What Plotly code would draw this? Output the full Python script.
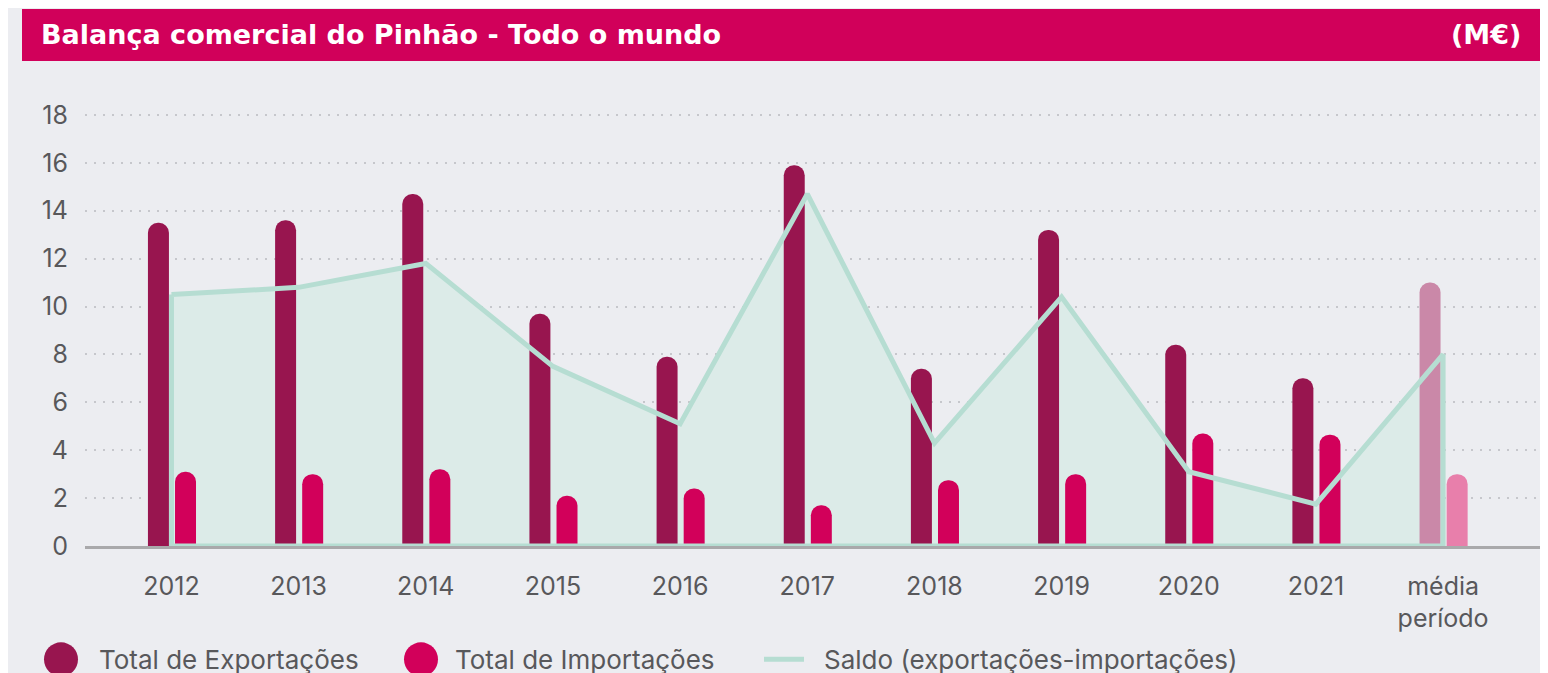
import plotly.graph_objects as go

# ---------------- data ----------------
categories = ["2012", "2013", "2014", "2015", "2016", "2017", "2018", "2019", "2020", "2021", "média<br>período"]
exportacoes = [13.5, 13.6, 14.7, 9.7, 7.9, 15.9, 7.4, 13.2, 8.4, 7.0, 11.0]
importacoes = [3.1, 3.0, 3.2, 2.1, 2.4, 1.7, 2.75, 3.0, 4.7, 4.65, 3.0]
saldo = [10.5, 10.8, 11.8, 7.5, 5.1, 14.7, 4.3, 10.4, 3.1, 1.75, 8.0]
y_ticks = [0, 2, 4, 6, 8, 10, 12, 14, 16, 18]

title_text = "Balança comercial do Pinhão - Todo o mundo"
unit_text = "(M€)"
legend_names = ["Total de Exportações", "Total de Importações", "Saldo (exportações-importações)"]

# ---------------- style ----------------
W, H = 1548, 673
OFF = 8  # page body offset of the figure in the screenshot
BG = "#ECEDF1"
C_EXP = "#98154F"
C_IMP = "#D2005A"
C_EXP_AVG = "#CA88A8"
C_IMP_AVG = "#E87FAB"
C_LINE = "#B6DDD2"
C_FILL = "#DCEBE8"
C_TEXT = "#58585B"
C_TITLE = "#D1005A"
FONT = "Inter, 'Noto Sans', sans-serif"
TITLE_FONT = "'DejaVu Sans', Inter, sans-serif"

# plot area in screenshot pixels
S_L, S_R, S_T, S_B = 85, 1541, 91, 545.7
PL, PR, PT, PB = S_L - OFF, S_R - OFF, S_T - OFF, S_B - OFF


def px_x(p):
    return (p - OFF - PL) / (PR - PL)


def px_y(p):
    return (PB - (p - OFF)) / (PB - PT)


n = len(categories)
exp_colors = [C_EXP] * (n - 1) + [C_EXP_AVG]
imp_colors = [C_IMP] * (n - 1) + [C_IMP_AVG]

fig = go.Figure()

# area fill (below the bars)
fig.add_trace(go.Scatter(
    x=categories, y=saldo, mode="none", fill="tozeroy",
    fillcolor=C_FILL, showlegend=False, hoverinfo="skip",
    xaxis="x", yaxis="y",
))

# bars (overlay axes, above the fill)
fig.add_trace(go.Bar(
    x=categories, y=exportacoes, name=legend_names[0],
    marker=dict(color=exp_colors, cornerradius="50%", line=dict(width=0)),
    width=0.165, offset=-0.185, showlegend=False,
    xaxis="x2", yaxis="y2",
))
fig.add_trace(go.Bar(
    x=categories, y=importacoes, name=legend_names[1],
    marker=dict(color=imp_colors, cornerradius="50%", line=dict(width=0)),
    width=0.165, offset=0.028, showlegend=False,
    xaxis="x2", yaxis="y2",
))

# saldo outline (closed polygon, above bars)
line_x = categories + [categories[-1], categories[0], categories[0]]
line_y = saldo + [0, 0, saldo[0]]
fig.add_trace(go.Scatter(
    x=line_x, y=line_y, mode="lines", name=legend_names[2],
    line=dict(color=C_LINE, width=5), showlegend=False,
    xaxis="x3", yaxis="y3",
))

xr = [-0.68, 10.77]
yr = [0, 19]

common_x = dict(type="category", categoryorder="array", categoryarray=categories, range=xr)

fig.update_layout(
    width=W, height=H,
    paper_bgcolor=BG, plot_bgcolor=BG,
    margin=dict(l=PL, r=W - PR, t=PT, b=H - PB),
    font=dict(family=FONT, color=C_TEXT, size=25),
    barmode="overlay",
    showlegend=False,
    xaxis=dict(
        **common_x,
        showgrid=False, zeroline=False,
        showline=True, linecolor="#A9A9AB", linewidth=2.5,
        ticks="", tickfont=dict(size=25, color=C_TEXT),
        ticklabelstandoff=16,
    ),
    yaxis=dict(
        range=yr, tickvals=y_ticks,
        showgrid=True, gridcolor="#C6C7CC", gridwidth=2, griddash="2px,7px",
        zeroline=False, showline=False, ticks="",
        tickfont=dict(size=25, color=C_TEXT),
        ticklabelstandoff=16,
    ),
    xaxis2=dict(**common_x, overlaying="x", matches="x", visible=False),
    yaxis2=dict(range=yr, overlaying="y", matches="y", visible=False),
    xaxis3=dict(**common_x, overlaying="x", matches="x", visible=False),
    yaxis3=dict(range=yr, overlaying="y", matches="y", visible=False),
)

shapes = []
annotations = []

# title band
shapes.append(dict(type="rect", xref="paper", yref="paper",
                   x0=px_x(22), x1=px_x(1541), y0=px_y(61), y1=px_y(9),
                   fillcolor=C_TITLE, line=dict(width=0), layer="below"))
annotations.append(dict(xref="paper", yref="paper", x=px_x(39), y=px_y(35),
                        xanchor="left", yanchor="middle", showarrow=False,
                        text="<b>" + title_text + "</b>",
                        font=dict(family=TITLE_FONT, size=27, color="white")))
annotations.append(dict(xref="paper", yref="paper", x=px_x(1523), y=px_y(35),
                        xanchor="right", yanchor="middle", showarrow=False,
                        text="<b>" + unit_text + "</b>",
                        font=dict(family=TITLE_FONT, size=27, color="white")))

# legend (manual)
leg_y = 659
for cx, col, tx, label in [(61, C_EXP, 97, legend_names[0]), (421, C_IMP, 453, legend_names[1])]:
    shapes.append(dict(type="circle", xref="paper", yref="paper",
                       x0=px_x(cx - 17), x1=px_x(cx + 17),
                       y0=px_y(leg_y + 17), y1=px_y(leg_y - 17),
                       fillcolor=col, line=dict(width=0)))
    annotations.append(dict(xref="paper", yref="paper", x=px_x(tx), y=px_y(leg_y),
                            xanchor="left", yanchor="middle", showarrow=False,
                            text=label, font=dict(family=FONT, size=26, color=C_TEXT)))
shapes.append(dict(type="line", xref="paper", yref="paper",
                   x0=px_x(764), x1=px_x(804), y0=px_y(leg_y), y1=px_y(leg_y),
                   line=dict(color=C_LINE, width=5)))
annotations.append(dict(xref="paper", yref="paper", x=px_x(822), y=px_y(leg_y),
                        xanchor="left", yanchor="middle", showarrow=False,
                        text=legend_names[2], font=dict(family=FONT, size=26, color=C_TEXT)))

fig.update_layout(shapes=shapes, annotations=annotations)

fig.write_html("out.html")
